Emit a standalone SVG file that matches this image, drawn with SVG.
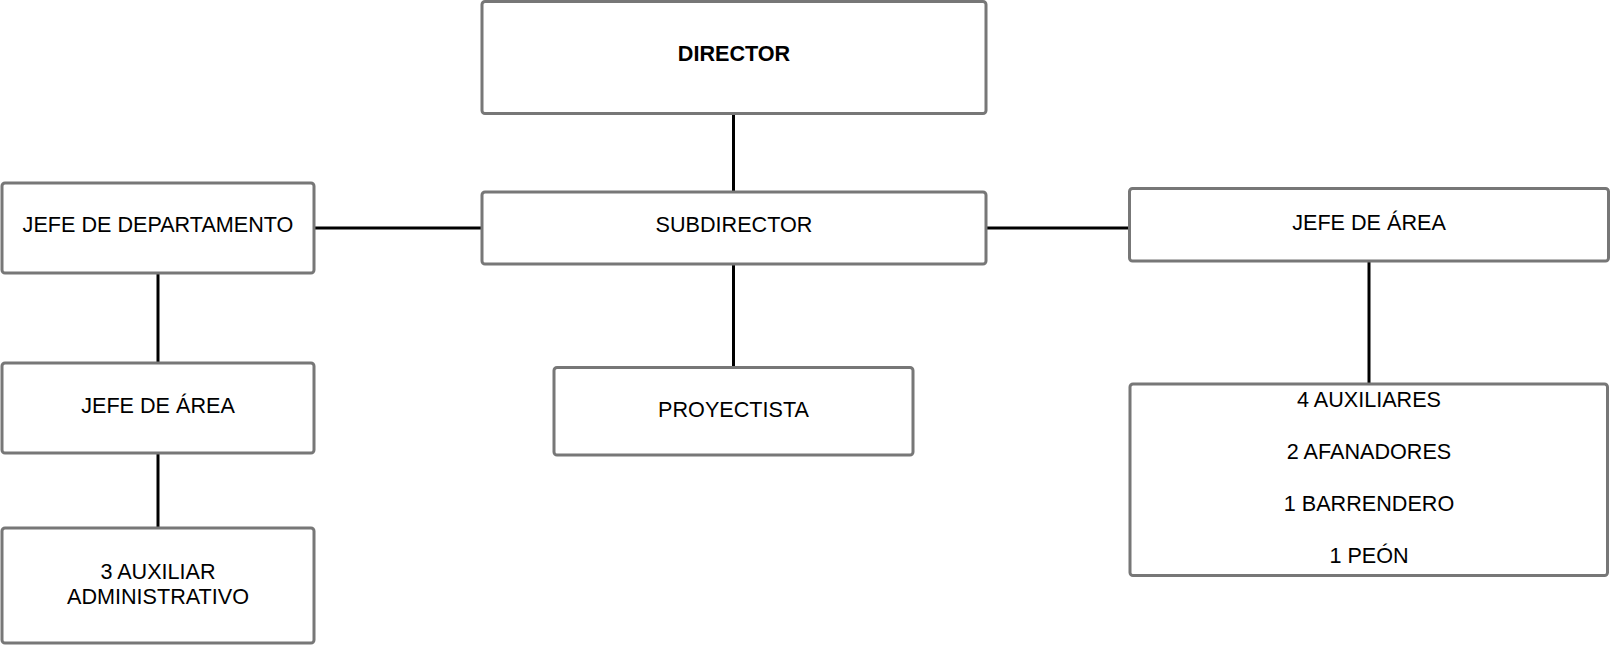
<svg xmlns="http://www.w3.org/2000/svg" width="1610" height="645" viewBox="0 0 1610 645">
<style>
.box{fill:#ffffff;stroke:#777777;stroke-width:3;}
.t{font-family:"Liberation Sans",Arial,sans-serif;font-size:21.6px;fill:#000000;text-anchor:middle;}
.b{font-weight:bold;}
.c{stroke:#000000;stroke-width:3;fill:none;}
</style>
<rect width="1610" height="645" fill="#ffffff"/>
<g id="connectors">
<line class="c" x1="733.5" y1="114" x2="733.5" y2="191"/>
<line class="c" x1="733.5" y1="265" x2="733.5" y2="366"/>
<line class="c" x1="314" y1="228" x2="481" y2="228"/>
<line class="c" x1="986" y1="228" x2="1129" y2="228"/>
<line class="c" x1="158" y1="274" x2="158" y2="362"/>
<line class="c" x1="158" y1="454" x2="158" y2="527"/>
<line class="c" x1="1369" y1="262" x2="1369" y2="383"/>
</g>
<g id="director">
<rect class="box" x="482" y="1.5" width="504" height="112" rx="3"/>
<text class="t b" x="734" y="61">DIRECTOR</text>
</g>
<g id="subdirector">
<rect class="box" x="482" y="192" width="504" height="72" rx="3"/>
<text class="t" x="734" y="232">SUBDIRECTOR</text>
</g>
<g id="jefe-departamento">
<rect class="box" x="2" y="183" width="312" height="90" rx="3"/>
<text class="t" x="158" y="232">JEFE DE DEPARTAMENTO</text>
</g>
<g id="jefe-area-izq">
<rect class="box" x="2" y="363" width="312" height="90" rx="3"/>
<text class="t" x="158" y="412.5">JEFE DE ÁREA</text>
</g>
<g id="auxiliar-administrativo">
<rect class="box" x="2" y="528" width="312" height="115" rx="3"/>
<text class="t" x="158" y="578.5">3 AUXILIAR</text>
<text class="t" x="158" y="603.5">ADMINISTRATIVO</text>
</g>
<g id="proyectista">
<rect class="box" x="554" y="367.5" width="359" height="87.5" rx="3"/>
<text class="t" x="733.5" y="416.5">PROYECTISTA</text>
</g>
<g id="jefe-area-der">
<rect class="box" x="1129.5" y="188.5" width="479" height="72.5" rx="3"/>
<text class="t" x="1369" y="230">JEFE DE ÁREA</text>
</g>
<g id="personal">
<rect class="box" x="1130" y="384" width="477.5" height="191.5" rx="3"/>
<text class="t" x="1369" y="407">4 AUXILIARES</text>
<text class="t" x="1369" y="459">2 AFANADORES</text>
<text class="t" x="1369" y="511">1 BARRENDERO</text>
<text class="t" x="1369" y="563">1 PEÓN</text>
</g>
</svg>
